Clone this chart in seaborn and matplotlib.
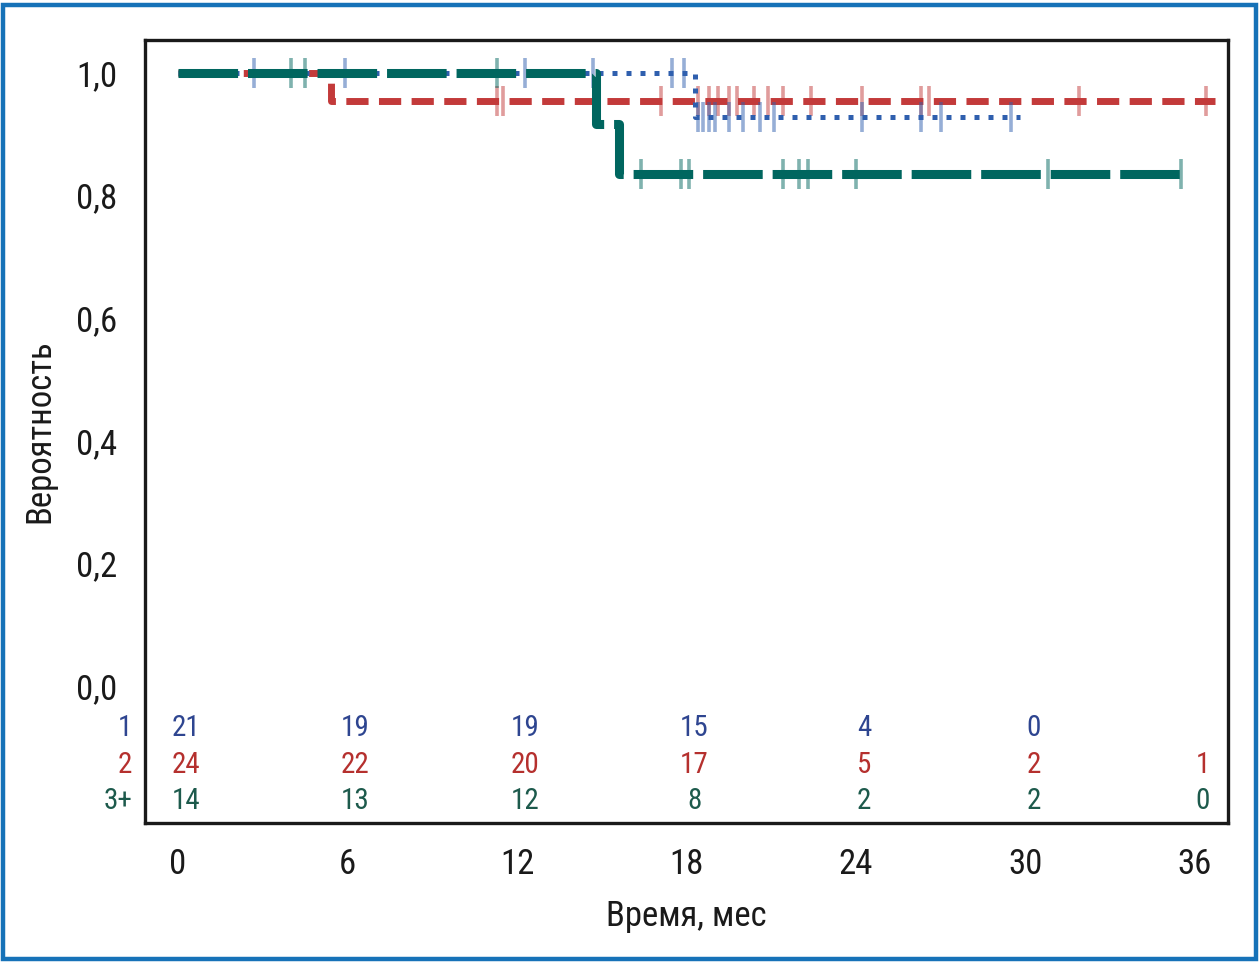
import matplotlib
matplotlib.use("Agg")
import numpy as np
import pandas as pd
import seaborn as sns
from matplotlib import pyplot as plt, font_manager
from matplotlib.patches import Rectangle

# --- data ---
months = [0, 6, 12, 18, 24, 30, 36]
groups = ["1", "2", "3+"]

g1_times = [0, 18.3, 29.8]
g1_surv = [1.0, 0.928, 0.928]
g2_times = [0, 5.4, 36.7]
g2_surv = [1.0, 0.955, 0.955]
g3_times = [0, 14.8, 15.6, 35.7]
g3_surv = [1.0, 0.917, 0.835, 0.835]

g1_censor = [2.7, 5.9, 12.3, 14.7, 17.5, 17.9, 18.4, 18.6, 18.8, 19.0, 19.5, 20.0, 20.6, 21.1, 24.2, 26.3, 27.0, 29.5]
g2_censor = [11.3, 11.5, 17.1, 18.4, 18.8, 19.1, 19.5, 19.8, 20.4, 20.9, 21.4, 22.4, 24.2, 26.3, 26.6, 31.9, 36.4]
g3_censor = [4.0, 4.5, 11.3, 16.4, 17.8, 18.1, 21.4, 22.0, 22.3, 24.0, 30.8, 35.5]

at_risk_1 = [21, 19, 19, 15, 4, 0, None]
at_risk_2 = [24, 22, 20, 17, 5, 2, 1]
at_risk_3 = [14, 13, 12, 8, 2, 2, 0]

yticks = [0.0, 0.2, 0.4, 0.6, 0.8, 1.0]

blue = "#2f5fae"
red = "#c33a3a"
teal = "#00665f"
txt_blue = "#2e4590"
txt_red = "#b5302e"
txt_teal = "#1d5a4c"

# --- font: prefer a condensed face ---
sns.set_style("white")
names = {f.name for f in font_manager.fontManager.ttflist}
family = "DejaVu Sans"
for cand in ["Liberation Sans Narrow", "Roboto Condensed", "Open Sans Condensed", "DejaVu Sans"]:
    if cand in names:
        family = cand
        break
plt.rcParams["font.family"] = [family, "DejaVu Sans"]

fig = plt.figure(figsize=(12.6, 9.64), dpi=100)
ax = fig.add_axes([145 / 1260, 1 - 823 / 964, 1083 / 1260, 783 / 964])


def step_y(times, surv, t):
    idx = np.searchsorted(times, t, side="right") - 1
    return np.asarray(surv)[idx]


series = [
    (g2_times, g2_surv, g2_censor, red, 5.0, (0, (3.2, 1.5)), 1),
    (g1_times, g1_surv, g1_censor, blue, 3.6, (0, (1.0, 1.8)), 2),
    (g3_times, g3_surv, g3_censor, teal, 6.5, (0, (6.6, 1.1)), 3),
]
for times, surv, cens, col, lw, ls, z in series:
    df = pd.DataFrame({"t": times, "s": surv})
    sns.lineplot(data=df, x="t", y="s", ax=ax, color=col, lw=lw, linestyle=ls,
                 drawstyle="steps-post", estimator=None, zorder=z)
    cy = step_y(times, surv, cens)
    ax.plot(cens, cy, ls="none", marker="|", ms=22, mew=2.6, color=col, alpha=0.5, zorder=z + 0.5)

# numbers at risk
rows = [(at_risk_1, txt_blue, -0.0685), (at_risk_2, txt_red, -0.129), (at_risk_3, txt_teal, -0.188)]
for (vals, col, yy), name in zip(rows, groups):
    for m, v in zip(months, vals):
        if v is not None:
            ax.text(m + 0.28, yy, str(v), color=col, ha="center", va="center", fontsize=21)
    ax.text(-0.012, yy, name, color=col, ha="right", va="center", fontsize=21,
            transform=ax.get_yaxis_transform())

ax.set_xlim(-1.17, 37.17)
ax.set_ylim(-0.2235, 1.054)
ax.set_xticks(months)
ax.set_xticklabels([str(m) for m in months])
ax.set_yticks(yticks)
ax.set_yticklabels([f"{v:.1f}".replace(".", ",") for v in yticks])
ax.tick_params(axis="both", length=11, width=2.3, labelsize=25, color="#1a1a1a", labelcolor="#1a1a1a")
ax.tick_params(axis="y", pad=9)
ax.tick_params(axis="x", pad=7)
for sp in ax.spines.values():
    sp.set_linewidth(2.4)
    sp.set_color("#1a1a1a")
ax.set_xlabel("Время, мес", fontsize=25, color="#1a1a1a", labelpad=14)
ax.set_ylabel("Вероятность", fontsize=25, color="#1a1a1a", labelpad=14)

fig.patches.append(Rectangle((3 / 1260, 5 / 964), 1253 / 1260, 954 / 964, transform=fig.transFigure,
                             fill=False, edgecolor="#1672b8", lw=3.2))

fig.savefig("out.png", dpi=100)
